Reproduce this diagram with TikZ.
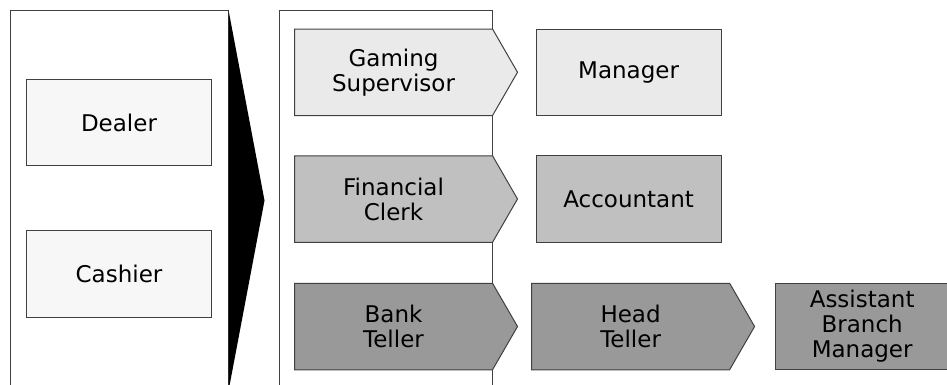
\documentclass[tikz,border=0pt]{standalone}
\usepackage{fontspec}
\setmainfont{DejaVu Sans}
\usetikzlibrary{shapes.symbols,calc}

\definecolor{edge}{HTML}{404040}
\definecolor{pale}{HTML}{F7F7F7}
\definecolor{lite}{HTML}{EAEAEA}
\definecolor{grey}{HTML}{C0C0C0}
\definecolor{dark}{HTML}{999999}

\begin{document}
\begin{tikzpicture}[x=1pt,y=-1pt,
  every node/.style={font=\fontsize{23}{25}\selectfont,align=center,text=black},
  panel/.style={draw=edge,line width=1pt,minimum width=217.5pt,minimum height=380pt,anchor=north west,inner sep=0pt},
  job/.style={draw=edge,line width=1pt,minimum width=185pt,minimum height=86.5pt,inner sep=0pt},
  chev/.style={job,signal,signal to=east,signal from=nowhere,signal pointer angle=120,minimum width=223pt}]
\useasboundingbox (0,0) rectangle (947,384);
\clip (0,0) rectangle (947,384);
\node[panel] (entry) at (10,10) {};
\node[panel,minimum width=213pt] (pane) at (279,10) {};
\fill (entry.north east) -- ($(entry.east)+(36,0)$) -- (entry.south east) -- cycle;
\node[job,fill=pale] (dl) at (119,122.5) {Dealer};
\node[job,fill=pale,anchor=north] at ($(dl.south)+(0,64)$) (cs) {Cashier};
\node[chev,fill=lite,anchor=west] (gs) at (294,72.25) {Gaming\\Supervisor};
\node[chev,fill=grey,anchor=west] (fc) at (294,199) {Financial\\Clerk};
\node[chev,fill=dark,anchor=west] (bt) at (294,326.5) {Bank\\Teller};
\node[job,fill=lite,anchor=west] at ($(gs.east)+(17.5,0)$) (mg) {Manager};
\node[job,fill=grey,anchor=west] at ($(fc.east)+(17.5,0)$) (ac) {Accountant};
\node[chev,fill=dark,anchor=west] at ($(bt.east)+(13,0)$) (ht) {Head\\Teller};
\node[job,fill=dark,minimum width=174pt,anchor=west] at ($(ht.east)+(19.5,0)$) (abm) {Assistant\\Branch\\Manager};
\end{tikzpicture}
\end{document}
